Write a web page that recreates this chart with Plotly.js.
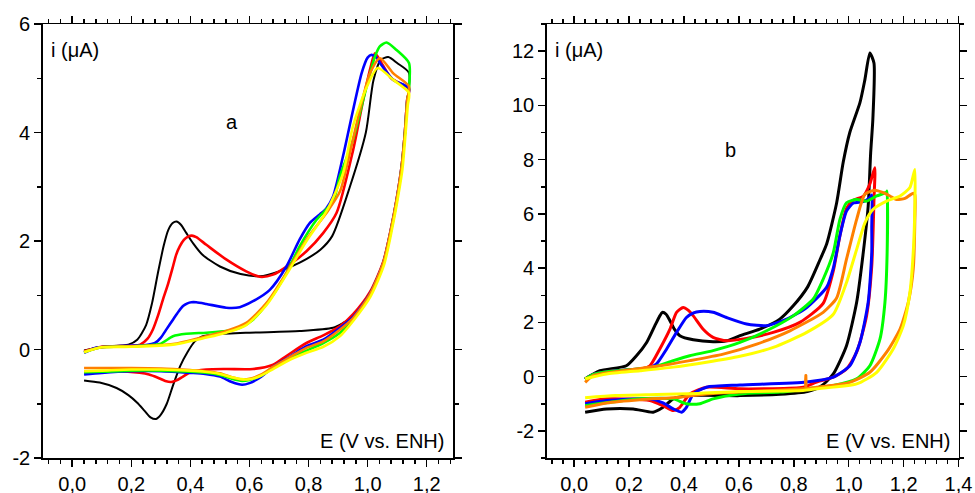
<!DOCTYPE html>
<html>
<head>
<meta charset="utf-8">
<script src="https://cdn.plot.ly/plotly-3.0.1.min.js"></script>
<style>html,body{margin:0;padding:0;background:#fff}#chart{width:975px;height:493px}</style>
</head>
<body>
<div id="chart"></div>
<script>
// ---------- Panel a (E in V vs. ENH, i in µA) ----------
const aBlackE = [0.04,0.10,0.19,0.22,0.25,0.27,0.29,0.31,0.325,0.34,0.353,0.368,0.386,0.41,0.44,0.50,0.57,0.635,0.70,0.77,0.84,0.88,0.94,0.994,1.02,1.045,1.07,1.10,1.14,
                 1.135,1.126,1.115,1.098,1.081,1.053,1.008,0.95,0.917,0.883,0.77,0.60,0.49,0.44,0.415,0.39,0.365,0.34,0.32,0.30,0.284,0.265,0.245,0.22,0.19,0.15,0.093,0.04];
const aBlackI = [-0.02,0.05,0.09,0.18,0.45,0.85,1.41,1.92,2.2,2.33,2.36,2.3,2.15,1.95,1.75,1.53,1.39,1.35,1.44,1.60,1.84,2.09,3.0,4.0,4.97,5.34,5.39,5.28,5.10,
                 4.6,3.99,3.37,2.76,2.27,1.6,1.04,0.61,0.49,0.40,0.34,0.31,0.28,0.24,0.15,-0.05,-0.31,-0.68,-1.0,-1.2,-1.28,-1.25,-1.13,-0.98,-0.84,-0.71,-0.61,-0.57];

const aRedE = [0.04,0.10,0.20,0.23,0.255,0.273,0.29,0.307,0.325,0.341,0.352,0.364,0.378,0.392,0.405,0.42,0.454,0.521,0.589,0.635,0.68,0.737,0.793,0.85,0.895,0.951,0.985,1.01,1.025,1.045,1.08,1.14,
               1.134,1.126,1.115,1.098,1.081,1.053,1.008,0.951,0.907,0.85,0.793,0.725,0.68,0.612,0.521,0.454,0.40,0.375,0.353,0.335,0.315,0.29,0.26,0.228,0.149,0.04];
const aRedI = [-0.03,0.05,0.07,0.09,0.2,0.37,0.62,0.92,1.22,1.53,1.75,1.90,2.02,2.08,2.10,2.07,1.93,1.66,1.44,1.34,1.38,1.57,1.81,2.15,2.52,3.68,4.6,5.2,5.46,5.3,5.0,4.8,
               4.6,3.99,3.37,2.76,2.27,1.62,1.06,0.65,0.43,0.26,0.12,-0.12,-0.28,-0.36,-0.36,-0.37,-0.42,-0.5,-0.57,-0.60,-0.58,-0.52,-0.46,-0.43,-0.40,-0.42];

const aBlueE = [0.04,0.08,0.15,0.25,0.28,0.30,0.32,0.341,0.36,0.375,0.39,0.403,0.42,0.454,0.521,0.567,0.612,0.669,0.725,0.77,0.804,0.838,0.86,0.883,0.917,0.951,0.98,1.0,1.013,1.03,1.042,1.087,1.14,
                1.134,1.126,1.115,1.098,1.081,1.053,1.008,0.951,0.907,0.85,0.793,0.74,0.68,0.64,0.60,0.575,0.54,0.50,0.45,0.40,0.30,0.20,0.10,0.04];
const aBlueI = [-0.06,0.03,0.06,0.08,0.12,0.22,0.38,0.55,0.70,0.80,0.85,0.87,0.87,0.84,0.77,0.78,0.89,1.10,1.53,2.03,2.33,2.49,2.6,2.82,3.57,4.42,5.1,5.38,5.43,5.38,5.28,4.97,4.82,
                4.6,3.99,3.37,2.76,2.27,1.6,1.03,0.6,0.40,0.18,0.06,-0.12,-0.32,-0.50,-0.62,-0.65,-0.60,-0.50,-0.45,-0.43,-0.40,-0.40,-0.43,-0.46];

const aGreenE = [0.04,0.10,0.20,0.296,0.341,0.386,0.454,0.521,0.567,0.612,0.669,0.725,0.77,0.827,0.883,0.906,0.951,0.991,1.025,1.042,1.064,1.098,1.14,
                 1.14,1.134,1.126,1.115,1.098,1.081,1.053,1.008,0.951,0.907,0.85,0.793,0.74,0.68,0.64,0.60,0.575,0.54,0.50,0.45,0.40,0.30,0.20,0.10,0.04];
const aGreenI = [-0.05,0.04,0.06,0.10,0.245,0.29,0.31,0.34,0.40,0.55,0.92,1.41,1.90,2.39,2.73,3.19,3.87,4.73,5.40,5.59,5.66,5.52,5.28,
                 4.8,4.55,3.95,3.33,2.72,2.23,1.57,1.0,0.56,0.31,0.12,-0.02,-0.15,-0.34,-0.48,-0.56,-0.58,-0.54,-0.47,-0.43,-0.41,-0.39,-0.39,-0.41,-0.42];

const aOrangeE = [0.04,0.10,0.20,0.341,0.454,0.521,0.589,0.658,0.725,0.793,0.861,0.907,0.929,0.974,1.008,1.042,1.087,1.14,
                  1.134,1.126,1.115,1.098,1.081,1.053,1.008,0.951,0.907,0.85,0.793,0.74,0.68,0.64,0.60,0.575,0.54,0.50,0.45,0.40,0.30,0.20,0.10,0.04];
const aOrangeI = [-0.04,0.04,0.06,0.10,0.245,0.34,0.49,0.86,1.41,2.03,2.52,2.92,3.37,4.42,5.09,5.37,5.09,4.85,
                  4.6,3.99,3.37,2.76,2.27,1.6,1.02,0.58,0.37,0.15,0.03,-0.13,-0.32,-0.46,-0.54,-0.55,-0.51,-0.44,-0.40,-0.38,-0.35,-0.34,-0.34,-0.34];

const aYellowE = [0.04,0.10,0.20,0.341,0.454,0.521,0.589,0.658,0.725,0.793,0.861,0.917,0.95,0.998,1.034,1.087,1.14,
                  1.136,1.128,1.118,1.10,1.083,1.055,1.01,0.953,0.907,0.85,0.793,0.74,0.68,0.64,0.60,0.58,0.54,0.50,0.45,0.40,0.30,0.20,0.10,0.04];
const aYellowI = [-0.05,0.04,0.05,0.09,0.22,0.31,0.45,0.82,1.38,2.0,2.55,3.25,4.11,4.85,5.19,4.97,4.73,
                  4.5,3.95,3.33,2.72,2.23,1.55,0.98,0.54,0.25,0.05,-0.06,-0.18,-0.36,-0.48,-0.55,-0.55,-0.51,-0.45,-0.41,-0.39,-0.37,-0.37,-0.39,-0.40];

// ---------- Panel b ----------
const bBlackE = [0.04,0.094,0.19,0.227,0.264,0.294,0.31,0.321,0.335,0.349,0.365,0.385,0.434,0.506,0.555,0.604,0.676,0.749,0.798,0.85,0.895,0.92,0.956,0.98,1.004,1.041,1.059,1.077,
                 1.092,1.088,1.08,1.071,1.053,1.029,0.992,0.944,0.90,0.85,0.75,0.604,0.421,0.361,0.324,0.288,0.215,0.118,0.04];
const bBlackI = [-0.08,0.22,0.40,0.77,1.26,1.88,2.2,2.37,2.3,2.06,1.75,1.51,1.36,1.29,1.32,1.51,1.75,2.12,2.61,3.3,4.3,4.9,6.4,7.9,9.0,10.1,10.95,11.93,
                 11.56,9.5,8.25,6.29,4.57,2.74,1.14,0.1,-0.35,-0.55,-0.65,-0.70,-0.70,-0.82,-1.13,-1.31,-1.19,-1.19,-1.31];

const bRedE = [0.04,0.07,0.12,0.20,0.25,0.276,0.312,0.349,0.373,0.397,0.415,0.434,0.47,0.506,0.555,0.628,0.725,0.822,0.907,0.944,0.968,0.992,1.017,1.053,1.077,1.095,
               1.092,1.084,1.065,1.029,0.992,0.944,0.883,0.834,0.604,0.482,0.421,0.385,0.361,0.324,0.276,0.118,0.04];
const bRedI = [-0.1,0.08,0.18,0.25,0.3,0.40,1.02,1.75,2.37,2.55,2.45,2.24,1.75,1.45,1.32,1.41,1.63,2.0,2.7,3.9,5.2,6.2,6.5,6.65,7.1,7.7,
               6.5,4.08,2.24,0.9,0.28,-0.02,-0.2,-0.39,-0.45,-0.39,-0.64,-1.13,-1.25,-1.07,-0.88,-0.82,-0.94];

const bBlueE = [0.04,0.07,0.12,0.20,0.27,0.30,0.337,0.373,0.409,0.435,0.458,0.506,0.555,0.628,0.701,0.774,0.847,0.92,0.944,0.968,0.992,1.017,1.053,1.077,1.084,
                1.084,1.084,1.071,1.041,1.004,0.944,0.847,0.604,0.482,0.434,0.409,0.391,0.361,0.324,0.276,0.118,0.04];
const bBlueI = [-0.1,0.08,0.18,0.25,0.3,0.47,1.02,1.63,2.18,2.35,2.40,2.37,2.18,1.94,1.88,2.12,2.55,3.3,4.0,5.2,6.1,6.4,6.45,6.6,6.7,
                5.5,4.57,2.74,1.26,0.40,-0.02,-0.2,-0.31,-0.39,-0.64,-1.13,-1.31,-1.19,-0.97,-0.82,-0.88,-1.0];

const bGreenE = [0.04,0.07,0.12,0.20,0.288,0.361,0.421,0.506,0.604,0.701,0.798,0.871,0.907,0.944,0.968,0.992,1.029,1.065,1.102,1.138,1.14,
                 1.14,1.132,1.114,1.077,1.029,0.944,0.847,0.75,0.604,0.506,0.458,0.409,0.361,0.24,0.04];
const bGreenI = [-0.1,0.08,0.18,0.25,0.35,0.59,0.77,0.96,1.26,1.69,2.24,2.86,3.59,4.57,5.8,6.41,6.53,6.47,6.66,6.80,6.84,
                 4.57,2.74,1.39,0.40,-0.08,-0.33,-0.45,-0.57,-0.64,-0.82,-1.0,-1.0,-0.82,-0.82,-1.07];

const bOrangeE = [0.04,0.069,0.178,0.30,0.421,0.543,0.665,0.786,0.907,0.956,0.992,1.029,1.059,1.095,1.126,1.15,1.174,1.205,1.235,1.241,
                  1.241,1.235,1.217,1.187,1.138,1.077,1.004,0.883,0.845,0.844,0.843,0.834,0.725,0.604,0.482,0.385,0.24,0.118,0.04];
const bOrangeI = [-0.21,0.04,0.22,0.38,0.59,0.83,1.20,1.69,2.37,2.9,4.33,5.80,6.72,6.87,6.78,6.66,6.53,6.57,6.76,6.7,
                  5.80,3.96,2.74,1.75,0.90,0.16,-0.21,-0.39,-0.42,0.04,-0.45,-0.45,-0.51,-0.57,-0.64,-0.76,-0.85,-0.97,-1.13];

const bYellowE = [0.04,0.118,0.24,0.361,0.482,0.604,0.725,0.847,0.944,0.992,1.029,1.059,1.089,1.138,1.187,1.223,1.241,
                  1.241,1.235,1.223,1.199,1.162,1.102,1.029,0.883,0.834,0.60,0.45,0.30,0.15,0.04];
const bYellowI = [-0.08,0.10,0.22,0.35,0.53,0.75,1.08,1.63,2.3,3.47,4.69,5.67,6.17,6.47,6.66,6.97,7.64,
                  6.29,4.57,3.10,1.88,1.02,0.16,-0.27,-0.45,-0.51,-0.55,-0.62,-0.66,-0.70,-0.78];

const seriesColors = ['#000000','#ff0000','#0000ff','#00ff00','#ff8000','#ffff00'];
const xTickVals = [0,0.2,0.4,0.6,0.8,1.0,1.2,1.4];
const xTickText = ['0,0','0,2','0,4','0,6','0,8','1,0','1,2','1,4'];
const aYTickVals = [-2,0,2,4,6];
const aYTickText = ['-2','0','2','4','6'];
const bYTickVals = [-2,0,2,4,6,8,10,12];
const bYTickText = ['-2','0','2','4','6','8','10','12'];

const panelA = [[aBlackE,aBlackI],[aRedE,aRedI],[aBlueE,aBlueI],[aGreenE,aGreenI],[aOrangeE,aOrangeI],[aYellowE,aYellowI]];
const panelB = [[bBlackE,bBlackI],[bRedE,bRedI],[bBlueE,bBlueI],[bGreenE,bGreenI],[bOrangeE,bOrangeI],[bYellowE,bYellowI]];

const traces = [];
panelA.forEach((d,i)=>traces.push({x:d[0],y:d[1],xaxis:'x',yaxis:'y',mode:'lines',
  line:{color:seriesColors[i],width:i===0?2:2.6,shape:'spline',smoothing:0.7},hoverinfo:'skip',showlegend:false}));
panelB.forEach((d,i)=>traces.push({x:d[0],y:d[1],xaxis:'x2',yaxis:'y2',mode:'lines',
  line:{color:seriesColors[i],width:3,shape:'spline',smoothing:0.6},hoverinfo:'skip',showlegend:false}));

const FONT = 'Liberation Sans, Arial, sans-serif';
function xAx(domain, range, anchor){
  return {domain:domain, range:range, anchor:anchor, tickmode:'array', tickvals:xTickVals, ticktext:xTickText,
    ticks:'outside', ticklen:7, tickwidth:1.5, tickcolor:'#000',
    minor:{tickmode:'linear', tick0:0, dtick:0.04, ticks:'outside', ticklen:4, tickwidth:1.5, tickcolor:'#000', showgrid:false},
    showline:true, linecolor:'#000', linewidth:1.5, mirror:'allticks', showgrid:false, zeroline:false,
    tickfont:{family:FONT,size:20,color:'#000'}, fixedrange:true};
}
function yAx(range, anchor, vals, text){
  return {domain:[0,1], range:range, anchor:anchor, tickmode:'array', tickvals:vals, ticktext:text,
    ticks:'outside', ticklen:7, tickwidth:1.5, tickcolor:'#000',
    minor:{tickmode:'linear', tick0:0, dtick:1, ticks:'outside', ticklen:4, tickwidth:1.5, tickcolor:'#000', showgrid:false},
    showline:true, linecolor:'#000', linewidth:1.5, mirror:'allticks', showgrid:false, zeroline:false,
    tickfont:{family:FONT,size:20,color:'#000'}, fixedrange:true};
}

const ann = (text,x,y,xa)=>({text:text,x:x,y:y,xref:'paper',yref:'paper',xanchor:xa,yanchor:'middle',showarrow:false,
  font:{family:FONT,size:20,color:'#000'}});

const layout = {
  width:975, height:493, margin:{l:0,r:0,t:24,b:35}, paper_bgcolor:'#fff', plot_bgcolor:'#fff',
  showlegend:false,
  xaxis: xAx([0.0438,0.4649],[-0.1,1.29],'y'),
  yaxis: yAx([-2,6],'x',aYTickVals,aYTickText),
  xaxis2: xAx([0.5607,0.9831],[-0.1,1.4],'y2'),
  yaxis2: yAx([-3,13],'x2',bYTickVals,bYTickText),
  annotations:[
    ann('i (\u03bcA)',0.050,0.940,'left'),
    ann('a',0.2376,0.774,'center'),
    ann('E (V vs. ENH)',0.4575,0.040,'right'),
    ann('i (\u03bcA)',0.567,0.940,'left'),
    ann('b',0.7497,0.7097,'center'),
    ann('E (V vs. ENH)',0.976,0.040,'right')
  ]
};
Plotly.newPlot('chart',traces,layout,{staticPlot:true,displayModeBar:false});
</script>
</body>
</html>
